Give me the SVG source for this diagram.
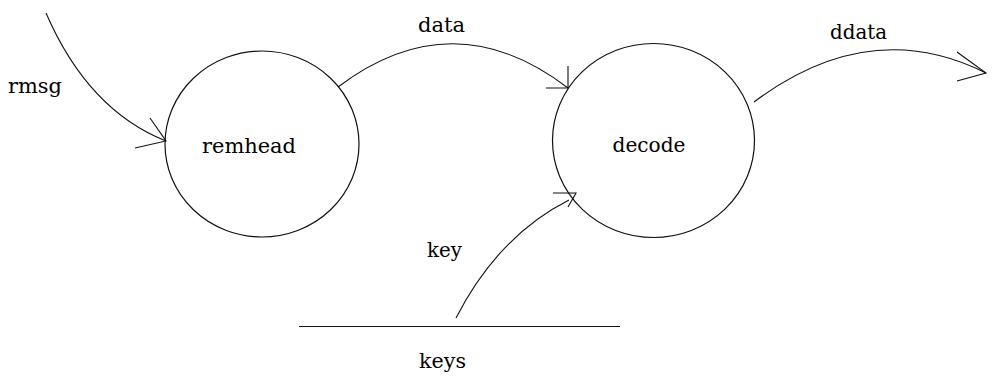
<svg xmlns="http://www.w3.org/2000/svg" width="995" height="384" viewBox="0 0 995 384">
<style>
.shape{fill:none;stroke:#111;stroke-width:1.2}
.edge{fill:none;stroke:#111;stroke-width:1.1}
.lbl{font-family:"DejaVu Serif","Liberation Serif",serif;font-size:21px;fill:#000}
</style>
<rect width="995" height="384" fill="#fff"/>
<g id="remhead">
<ellipse class="shape" cx="262" cy="144" rx="97" ry="93"/>
<text class="lbl" x="202" y="153" textLength="94" lengthAdjust="spacingAndGlyphs">remhead</text>
</g>
<g id="decode">
<ellipse class="shape" cx="653.5" cy="140.5" rx="101" ry="97"/>
<text class="lbl" x="612.5" y="152" textLength="73" lengthAdjust="spacingAndGlyphs">decode</text>
</g>
<g id="keys">
<line class="shape" x1="299" y1="326.5" x2="620" y2="326.5"/>
<text class="lbl" x="419" y="368" textLength="47" lengthAdjust="spacingAndGlyphs">keys</text>
</g>
<g id="connectors">
<g id="rmsg">
<path class="edge" d="M46,13 Q88,110 166,141"/>
<path class="edge" d="M150,118 L166,141 L135,148"/>
<text class="lbl" x="8" y="93" textLength="54" lengthAdjust="spacingAndGlyphs">rmsg</text>
</g>
<g id="data">
<path class="edge" d="M338,87 Q453,0 568,88"/>
<path class="edge" d="M568,66 L568,88 L546,88"/>
<text class="lbl" x="418" y="32" textLength="47" lengthAdjust="spacingAndGlyphs">data</text>
</g>
<g id="ddata">
<path class="edge" d="M754,102 Q870,15 986,73"/>
<path class="edge" d="M957,52 L986,73 L957,81"/>
<text class="lbl" x="830" y="39" textLength="57" lengthAdjust="spacingAndGlyphs">ddata</text>
</g>
<g id="key">
<path class="edge" d="M456,318 Q498,236 569,200"/>
<path class="edge" d="M553,193 L576,193 L568,207"/>
<text class="lbl" x="427" y="257" textLength="35" lengthAdjust="spacingAndGlyphs">key</text>
</g>
</g>
</svg>
